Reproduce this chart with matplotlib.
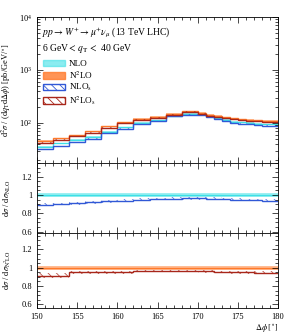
import numpy as np
import matplotlib
matplotlib.use('Agg')
import matplotlib.pyplot as plt
from matplotlib.patches import Patch
from matplotlib.ticker import MultipleLocator, FuncFormatter, LogLocator, NullFormatter

plt.rcParams['font.family'] = ['Liberation Serif', 'DejaVu Serif']
plt.rcParams['mathtext.fontset'] = 'stix'

# bin edges in delta phi (deg): 2 deg bins up to 170, then 1 deg bins
edges = [150, 152, 154, 156, 158, 160, 162, 164, 166, 168, 170,
         171, 172, 173, 174, 175, 176, 177, 178, 179, 180]

# d2sigma / (dqT dphi) [pb/GeV/deg]
nlo = [35.5, 41, 48, 55, 68, 83, 100, 112, 138, 148,
       146, 133, 123, 114, 106, 102, 100, 97, 95, 94]
n2lo = [45.7, 52, 59, 69, 86, 104, 120, 130, 148, 168,
        156, 142, 136, 128, 123, 117, 114, 113, 110, 110]
nlos = [31.8, 36.9, 43.7, 50.6, 63.2, 78, 95, 107, 132.5, 142.8,
        140.9, 127.7, 118, 108.9, 100.7, 96.9, 94.5, 91.7, 89.3, 88.4]
n2los = [41.8, 47.6, 56, 65.6, 81.7, 98.8, 115.8, 125.5, 142.8, 162,
         149.8, 136.3, 129.9, 122.2, 116.9, 111.2, 108.3, 106.8, 104, 104]

# ratios shown in the lower panels
ratio_nlos = [0.895, 0.90, 0.91, 0.92, 0.93, 0.94, 0.95, 0.955, 0.96, 0.965,
              0.965, 0.96, 0.96, 0.955, 0.95, 0.95, 0.945, 0.945, 0.94, 0.94]
ratio_n2los = [0.915, 0.915, 0.95, 0.95, 0.95, 0.95, 0.965, 0.965, 0.965, 0.965,
               0.96, 0.96, 0.955, 0.955, 0.95, 0.95, 0.95, 0.945, 0.945, 0.945]

# relative band half-widths
err_nlo = 0.02
err_n2lo = 0.02
err_nlos = 0.015
err_n2los = [0.03, 0.03, 0.015, 0.015, 0.015, 0.015, 0.015, 0.015, 0.015, 0.015,
             0.015, 0.015, 0.015, 0.015, 0.015, 0.015, 0.015, 0.015, 0.015, 0.015]

c_nlo = '#3ee0e6'
c_n2lo = '#ff7a2a'
c_nlos = '#3158d6'
c_n2los = '#a8261a'


def band(ax, vals, rel, color, hatch=None, filled=True):
    vals = np.asarray(vals, float)
    rel = np.broadcast_to(np.asarray(rel, float), vals.shape)
    lo = np.append(vals * (1 - rel), vals[-1] * (1 - rel[-1]))
    hi = np.append(vals * (1 + rel), vals[-1] * (1 + rel[-1]))
    if filled:
        ax.fill_between(edges, lo, hi, step='post', color=color, alpha=0.5, lw=0)
    else:
        ax.fill_between(edges, lo, hi, step='post', facecolor='none',
                        edgecolor=color, hatch=hatch, lw=0, alpha=0.8)
    ax.stairs(vals, edges, color=color, lw=1.0, baseline=None)


def style(ax):
    ax.set_xlim(150, 180)
    ax.tick_params(which='both', direction='in', top=True, right=True,
                   labelsize=6, width=0.5)
    ax.tick_params(which='major', length=4)
    ax.tick_params(which='minor', length=2)
    ax.xaxis.set_major_locator(MultipleLocator(5))
    ax.xaxis.set_minor_locator(MultipleLocator(1))
    for s in ax.spines.values():
        s.set_linewidth(0.6)


plt.rcParams['hatch.linewidth'] = 0.6
fig = plt.figure(figsize=(2.88, 3.33), dpi=100)
left, width = 0.1285, 0.837
ax1 = fig.add_axes([left, 0.5105, width, 0.4384])
ax2 = fig.add_axes([left, 0.3003, width, 0.2102])
ax3 = fig.add_axes([left, 0.0751, width, 0.2252])

# main panel
band(ax1, nlo, err_nlo, c_nlo)
band(ax1, n2lo, err_n2lo, c_n2lo)
band(ax1, nlos, err_nlos, c_nlos, hatch='\\\\\\\\', filled=False)
band(ax1, n2los, err_n2los, c_n2los, hatch='\\\\\\\\', filled=False)
ax1.set_yscale('log')
ax1.set_ylim(17.5, 1e4)
style(ax1)
ax1.yaxis.set_minor_locator(LogLocator(base=10, subs=np.arange(2, 10)))
ax1.yaxis.set_minor_formatter(NullFormatter())
ax1.tick_params(labelbottom=False)
ax1.set_ylabel(r'd$^2\sigma$ / (d$q_\mathrm{T}$d$\Delta\phi$) [pb/GeV/$^\circ$]',
               fontsize=6, labelpad=2)
ax1.text(0.02, 0.89, r'$pp\rightarrow W^{+}\rightarrow \mu^{+}\nu_{\mu}$ (13 TeV LHC)',
         transform=ax1.transAxes, fontsize=6.9, va='center')
ax1.text(0.02, 0.785, r'6 GeV$<\,q_\mathrm{T}\,<$ 40 GeV',
         transform=ax1.transAxes, fontsize=6.9, va='center')

handles = [
    Patch(facecolor=c_nlo, edgecolor=c_nlo, alpha=0.6),
    Patch(facecolor=c_n2lo, edgecolor=c_n2lo, alpha=0.8),
    Patch(facecolor='none', edgecolor=c_nlos, hatch='\\\\\\\\'),
    Patch(facecolor='none', edgecolor=c_n2los, hatch='\\\\\\\\'),
]
labels = ['NLO', r'N$^2$LO', r'NLO$_\mathrm{s}$', r'N$^2$LO$_\mathrm{s}$']
ax1.legend(handles, labels, loc='upper left', bbox_to_anchor=(0.0, 0.75),
           frameon=False, fontsize=6.6, handlelength=2.3, handleheight=0.7,
           labelspacing=0.12, handletextpad=0.5, borderaxespad=0.3)

fmt = FuncFormatter(lambda v, p: f'{v:g}')

# NLO ratio panel
band(ax2, [1.0] * len(nlo), err_nlo, c_nlo)
band(ax2, ratio_nlos, err_nlos, c_nlos, hatch='\\\\\\\\', filled=False)
ax2.set_ylim(0.585, 1.35)
style(ax2)
ax2.yaxis.set_major_locator(MultipleLocator(0.2))
ax2.yaxis.set_minor_locator(MultipleLocator(0.05))
ax2.yaxis.set_major_formatter(fmt)
ax2.tick_params(labelbottom=False)
ax2.set_ylabel(r'd$\sigma$ / d$\sigma_\mathrm{NLO}$', fontsize=6, labelpad=2)

# N2LO ratio panel
band(ax3, [1.0] * len(n2lo), err_n2lo, c_n2lo)
band(ax3, ratio_n2los, err_n2los, c_n2los, hatch='\\\\\\\\', filled=False)
ax3.set_ylim(0.56, 1.38)
style(ax3)
ax3.yaxis.set_major_locator(MultipleLocator(0.2))
ax3.yaxis.set_minor_locator(MultipleLocator(0.05))
ax3.yaxis.set_major_formatter(fmt)
ax3.set_ylabel(r'd$\sigma$ / d$\sigma_\mathrm{N^2LO}$', fontsize=6, labelpad=2)
ax3.set_xlabel(r'$\Delta\phi\,[^\circ]$', fontsize=6, loc='right', labelpad=1)

for ax in (ax1, ax2, ax3):
    ax.yaxis.set_label_coords(-0.1, 0.5)

fig.savefig('out.png', dpi=100)
